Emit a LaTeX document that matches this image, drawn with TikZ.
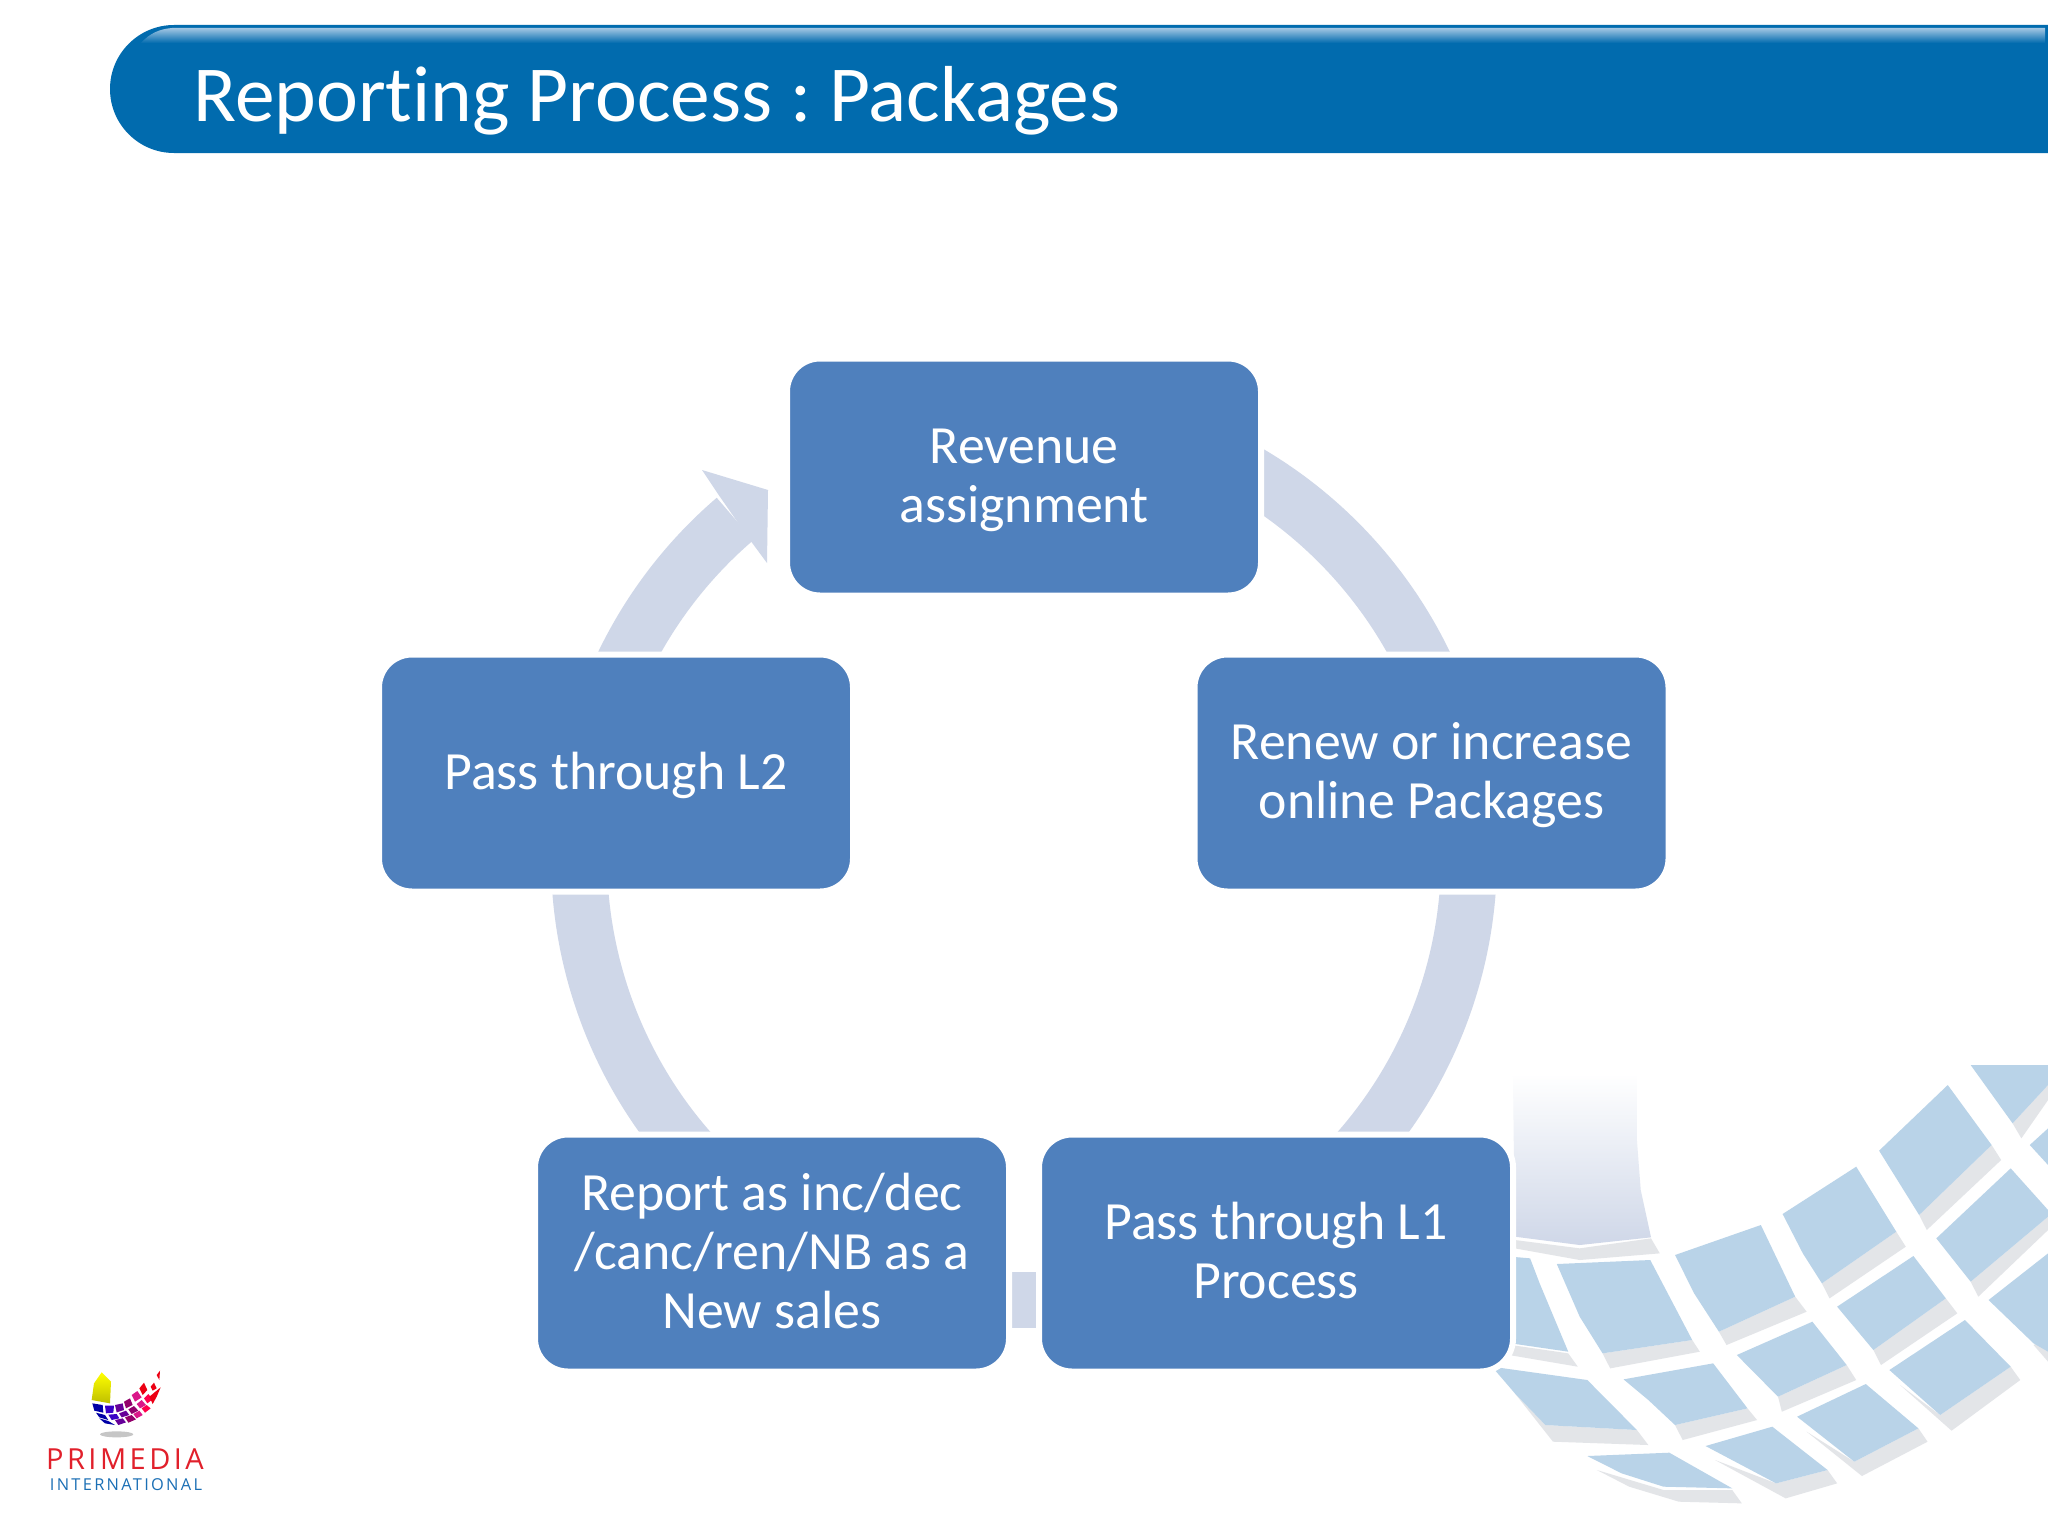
\documentclass[tikz,border=0pt]{standalone}
\usepackage{fontspec}
\setmainfont[Ligatures={NoCommon}]{Carlito}
\newfontfamily\logored[LetterSpace=12]{Open Sans}
\newfontfamily\logoblue[LetterSpace=14]{Open Sans}
\usepackage{tikz}
\usetikzlibrary{backgrounds}
\definecolor{barblue}{HTML}{016BAE}
\definecolor{barlight}{HTML}{A3C6E3}
\definecolor{boxblue}{HTML}{4F80BD}
\definecolor{ringgrey}{HTML}{CFD7E8}
\definecolor{cellblue}{HTML}{B9D3E8}
\definecolor{cellgrey}{HTML}{E3E5E8}
\definecolor{logored}{HTML}{E1202B}
\definecolor{logoblue}{HTML}{1B6FB5}
\tikzstyle{package box}=[
    rectangle, rounded corners=16.5pt, draw=white, line width=3pt,
    fill=boxblue, text=white, align=center, inner sep=0pt, outer sep=0pt,
    minimum width=237pt, minimum height=118.5pt,
    font=\fontsize{26.9}{29.5}\selectfont,
    execute at begin node={\rule{0pt}{23pt}},
    execute at end node={\rule[-7pt]{0pt}{7pt}}
]
\tikzstyle{two lines}=[execute at begin node={\rule{0pt}{52.8pt}}]
\tikzstyle{three lines}=[execute at begin node={\rule{0pt}{82.6pt}}]
\tikzstyle{ring line}=[draw=ringgrey, line width=28pt]
\tikzstyle{cell}=[fill=cellblue]
\tikzstyle{cell shadow}=[fill=cellgrey]
\begin{document}
\frenchspacing
\begin{tikzpicture}[x=.5pt,y=.5pt]
    \useasboundingbox (0,0) rectangle (2048,-1536);

    \begin{scope}[shift={(1450,-1040)},x=.1907pt,y=.16667pt]
      \shade [top color=white,bottom color=ringgrey] (165,-100) -- (490,-100) -- (490,-300) -- (500,-450) -- (527,-592) -- (340,-615) -- (170,-590) -- cycle;
      \fill[cell shadow] (170,-600) -- (340,-625) -- (527,-595) -- (550,-640) -- (340,-660) -- (170,-625) -- cycle;
      \fill[cell shadow] (160,-915) -- (310,-940) -- (335,-980) -- (155,-945) -- cycle;
      \fill[cell shadow] (400,-940) -- (635,-900) -- (655,-935) -- (420,-985) -- cycle;
      \fill[cell shadow] (705,-875) -- (905,-770) -- (935,-815) -- (725,-915) -- cycle;
      \fill[cell shadow] (975,-730) -- (1170,-575) -- (1195,-620) -- (995,-775) -- cycle;
      \fill[cell shadow] (1230,-525) -- (1420,-315) -- (1445,-360) -- (1250,-570) -- cycle;
      \fill[cell shadow] (1475,-250) -- (1568,-135) -- (1568,-180) -- (1498,-295) -- cycle;
      \fill[cell shadow] (170,-1060) -- (250,-1155) -- (490,-1170) -- (520,-1215) -- (270,-1205) -- cycle;
      \fill[cell shadow] (590,-1155) -- (780,-1105) -- (805,-1140) -- (610,-1200) -- cycle;
      \fill[cell shadow] (860,-1070) -- (1040,-975) -- (1065,-1020) -- (870,-1115) -- cycle;
      \fill[cell shadow] (1110,-930) -- (1300,-775) -- (1330,-820) -- (1130,-975) -- cycle;
      \fill[cell shadow] (1365,-725) -- (1568,-530) -- (1568,-570) -- (1385,-770) -- cycle;
      \fill[cell shadow] (385,-1290) -- (560,-1350) -- (740,-1350) -- (765,-1390) -- (600,-1385) -- (470,-1340) -- cycle;
      \fill[cell shadow] (695,-1260) -- (855,-1330) -- (990,-1290) -- (1015,-1330) -- (880,-1375) -- cycle;
      \fill[cell shadow] (935,-1175) -- (1060,-1265) -- (1228,-1165) -- (1252,-1205) -- (1080,-1308) -- cycle;
      \fill[cell shadow] (1180,-1035) -- (1285,-1125) -- (1470,-980) -- (1495,-1020) -- (1315,-1172) -- cycle;
      \fill[cell shadow] (1530,-915) -- (1568,-890) -- (1568,-965) -- cycle;
      \fill[cell] (160,-650) -- (210,-655) -- (235,-730) -- (310,-935) -- (160,-910) -- cycle;
      \fill[cell] (280,-672) -- (525,-660) -- (635,-900) -- (400,-940) -- (340,-830) -- cycle;
      \fill[cell] (590,-645) -- (815,-555) -- (905,-770) -- (705,-875) -- (640,-760) -- cycle;
      \fill[cell] (872,-522) -- (1065,-380) -- (1170,-575) -- (975,-730) -- (925,-640) -- cycle;
      \fill[cell] (1125,-332) -- (1305,-135) -- (1420,-315) -- (1230,-525) -- cycle;
      \fill[cell] (1365,-75) -- (1568,-75) -- (1568,-135) -- (1475,-250) -- cycle;
      \fill[cell] (110,-980) -- (360,-1020) -- (490,-1170) -- (250,-1155) -- (170,-1060) -- cycle;
      \fill[cell] (455,-1018) -- (690,-970) -- (780,-1105) -- (590,-1155) -- (520,-1080) -- cycle;
      \fill[cell] (752,-945) -- (950,-845) -- (1040,-975) -- (860,-1070) -- cycle;
      \fill[cell] (1015,-800) -- (1215,-648) -- (1300,-775) -- (1110,-930) -- cycle;
      \fill[cell] (1275,-595) -- (1470,-385) -- (1568,-510) -- (1568,-530) -- (1365,-725) -- cycle;
      \fill[cell] (1520,-315) -- (1568,-265) -- (1568,-375) -- cycle;
      \fill[cell] (360,-1248) -- (575,-1238) -- (740,-1345) -- (560,-1340) -- (450,-1300) -- cycle;
      \fill[cell] (670,-1218) -- (845,-1160) -- (990,-1290) -- (855,-1330) -- cycle;
      \fill[cell] (910,-1130) -- (1090,-1032) -- (1228,-1165) -- (1060,-1265) -- cycle;
      \fill[cell] (1152,-990) -- (1350,-840) -- (1470,-980) -- (1285,-1125) -- cycle;
      \fill[cell] (1412,-780) -- (1568,-640) -- (1568,-935) -- (1530,-910) -- cycle;
    \end{scope}

    \begin{scope}[shift={(0,-1340)},x=.16667pt,y=.16667pt]
      \shade [top color=yellow,bottom color=yellow!75!black] (305,-97) -- (333,-125) -- (330,-190) -- (275,-180) -- (282,-130) -- cycle;
      \fill[blue!65!black] (277,-190) -- (308,-195) -- (310,-218) -- (283,-212) -- cycle;
      \fill[blue!55!violet] (315,-197) -- (342,-197) -- (340,-218) -- (318,-220) -- cycle;
      \fill[violet!80!blue] (345,-195) -- (368,-190) -- (372,-210) -- (350,-217) -- cycle;
      \fill[violet!85!red] (372,-185) -- (390,-175) -- (398,-195) -- (378,-205) -- cycle;
      \fill[magenta!80!violet] (395,-165) -- (412,-153) -- (425,-172) -- (405,-185) -- cycle;
      \fill[red!85!violet] (418,-145) -- (432,-128) -- (442,-150) -- (428,-165) -- cycle;
      \fill[red!85!violet] (452,-140) -- (462,-128) -- (470,-145) -- (458,-152) -- cycle;
      \fill[red!85!violet] (470,-105) -- (480,-92) -- (478,-120) -- cycle;
      \fill[blue!65!black] (288,-218) -- (315,-225) -- (325,-240) -- (298,-232) -- cycle;
      \fill[blue!55!violet] (325,-224) -- (350,-222) -- (358,-235) -- (335,-240) -- cycle;
      \fill[violet!80!blue] (357,-220) -- (378,-212) -- (388,-225) -- (365,-232) -- cycle;
      \fill[violet!85!red] (385,-208) -- (402,-198) -- (415,-212) -- (395,-222) -- cycle;
      \fill[magenta!80!violet] (410,-192) -- (425,-180) -- (438,-195) -- (420,-205) -- cycle;
      \fill[red!70!magenta] (432,-175) -- (445,-162) -- (458,-178) -- (442,-190) -- cycle;
      \fill[red!85!violet] (448,-170) -- (482,-142) -- (470,-170) -- (458,-192) -- cycle;
      \fill[blue!65!black] (298,-235) -- (325,-243) -- (345,-255) -- (315,-250) -- cycle;
      \fill[violet!80!blue] (345,-240) -- (368,-235) -- (378,-247) -- (355,-255) -- cycle;
      \fill[violet!85!red] (375,-232) -- (395,-225) -- (408,-238) -- (385,-248) -- cycle;
      \fill[magenta!80!violet] (400,-222) -- (418,-212) -- (428,-225) -- (410,-235) -- cycle;
      \fill[red!70!magenta] (425,-205) -- (440,-195) -- (452,-205) -- (435,-218) -- cycle;
      \fill[gray!45] (350,-283) ellipse [x radius=50,y radius=9];
    \end{scope}
    \node (logotop) at (125,-1459) [text=logored,font={\logored\fontsize{14.5}{14.5}\selectfont}] {PRIMEDIA};
    \node (logobottom) at (126,-1485) [text=logoblue,font={\logoblue\fontsize{8.2}{8.2}\selectfont}] {INTERNATIONAL};

    \fill[barblue] (2048,-153) -- (174,-153) arc [start angle=270,end angle=90,radius=64] -- (2048,-25) -- cycle;
    \shade [top color=barlight,bottom color=barblue] (2045,-28) -- (172,-28) .. controls (160,-29) and (150,-33) .. (141,-43) -- (2045,-43) -- cycle;
    \node (title) at (193,-121) [anchor=base west,inner sep=0pt,text=white,font=\fontsize{39.7}{44}\selectfont] {Reporting Process : Packages};

    \node[package box,two lines] (revenue) at (1024,-477) {Revenue\\assignment};
    \node[package box,two lines] (renew) at (1431.5,-773) {Renew or increase\\online Packages};
    \node[package box,two lines] (passone) at (1276,-1253) {Pass through L1\\Process};
    \node[package box,three lines] (report) at (772,-1253) {Report as inc/dec\\/canc/ren/NB as a\\New sales};
    \node[package box] (passtwo) at (616,-773) {Pass through L2};

    \begin{scope}[on background layer]
      \fill[white] (0,0) rectangle (2048,-1536);
      \draw[ring line] ([shift={(-14.5,5.4)}]revenue.east) to [bend left=19.65,looseness=.877] ([shift={(8.5,-45.5)}]renew.north);
      \draw[ring line] ([shift={(36.9,11.2)}]renew.south) to [bend left=20,looseness=.878] ([shift={(73.5,-26)}]passone.north);
      \draw[ring line] ([shift={(0,-47)}]passone.west) -- ([shift={(0,-47)}]report.east);
      \draw[ring line] ([shift={(-73.5,-26)}]report.north) to [bend left=20,looseness=.878] ([shift={(-36.4,11.2)}]passtwo.south);
      \draw[ring line] ([shift={(-8,-45.5)}]passtwo.north) to [bend left=14.4,looseness=.865] ([shift={(-52,-42)}]revenue.west);
      \fill[ringgrey] ([shift={(-69,-17)}]revenue.west) -- ([shift={(-85,7)}]revenue.west) -- ([shift={(-19,-13)}]revenue.west) -- ([shift={(-20,-86)}]revenue.west) -- ([shift={(-37,-63)}]revenue.west) -- cycle;
    \end{scope}
\end{tikzpicture}
\end{document}
